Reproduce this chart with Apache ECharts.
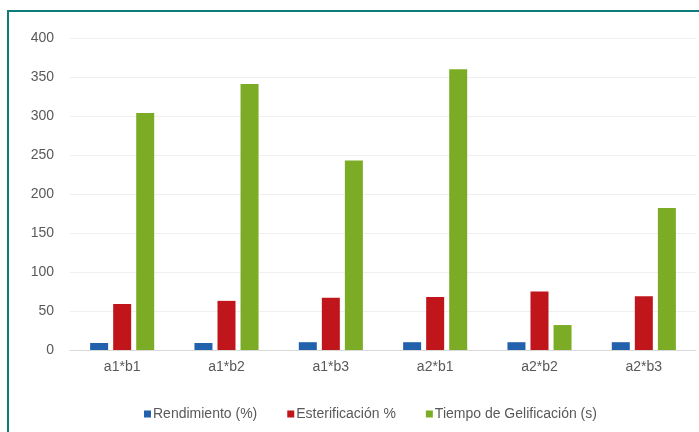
<!DOCTYPE html>
<html>
<head>
<meta charset="utf-8">
<script src="https://cdn.jsdelivr.net/npm/echarts@6/dist/echarts.min.js"></script>
<style>
  html, body { margin: 0; padding: 0; background: #fff; }
  #frame { position: absolute; left: 7px; top: 10px; width: 720px; height: 440px;
           border-left: 2px solid #0e7c7b; border-top: 2px solid #0e7c7b; }
  #main { position: absolute; left: 0; top: 0; width: 699px; height: 432px; }
</style>
</head>
<body>
<div id="frame"></div>
<div id="main"></div>
<script>
var categories = ['a1*b1', 'a1*b2', 'a1*b3', 'a2*b1', 'a2*b2', 'a2*b3']
var rendimiento = [9, 9, 10, 10, 10, 10]
var esterificacion = [59, 63, 67, 68, 75, 69]
var tiempoGelificacion = [304, 341, 243, 360, 32, 182]
var yTicks = [0, 50, 100, 150, 200, 250, 300, 350, 400]

var myChart = echarts.init(document.getElementById('main'))

var labelColor = '#595959'
var fontFamily = '"Liberation Sans", Arial, sans-serif'

var option = {
  textStyle: { fontFamily: fontFamily },
  grid: { left: 70, right: 3, top: 38, bottom: 82 },
  legend: {
    left: 139,
    top: 402,
    itemWidth: 7,
    itemHeight: 7,
    itemGap: 30,
    icon: 'rect',
    textStyle: { color: labelColor, fontSize: 14, fontFamily: fontFamily, padding: [0, 0, 0, -3] },
    data: ['Rendimiento (%)', 'Esterificación %', 'Tiempo de Gelificación (s)']
  },
  xAxis: {
    type: 'category',
    data: categories,
    axisTick: { show: false },
    axisLine: { lineStyle: { color: '#d9d9d9' } },
    axisLabel: { color: labelColor, fontSize: 14, margin: 10 }
  },
  yAxis: {
    type: 'value',
    min: yTicks[0],
    max: yTicks[yTicks.length - 1],
    interval: 50,
    axisLine: { show: false },
    axisTick: { show: false },
    axisLabel: { color: labelColor, fontSize: 14, margin: 16 },
    splitLine: { lineStyle: { color: '#efefef' } }
  },
  series: [
    {
      name: 'Rendimiento (%)',
      type: 'bar',
      data: rendimiento,
      barWidth: 18,
      barGap: '28%',
      itemStyle: { color: '#2262ad' }
    },
    {
      name: 'Esterificación %',
      type: 'bar',
      data: esterificacion,
      barWidth: 18,
      itemStyle: { color: '#c0151b' }
    },
    {
      name: 'Tiempo de Gelificación (s)',
      type: 'bar',
      data: tiempoGelificacion,
      barWidth: 18,
      itemStyle: { color: '#7cac25' }
    }
  ]
}

myChart.setOption(option)
</script>
</body>
</html>
